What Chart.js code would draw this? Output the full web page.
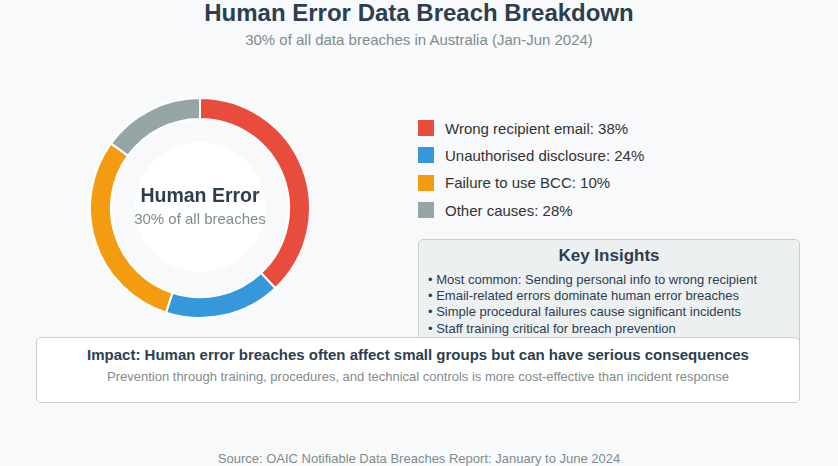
<!DOCTYPE html>
<html>
<head>
<meta charset="utf-8">
<script src="https://cdn.jsdelivr.net/npm/chart.js@4"></script>
<style>
    html, body { margin: 0; padding: 0; }
    body {
        width: 838px; height: 466px; overflow: hidden; position: relative;
        background: #f8f9fa; font-family: "Liberation Sans", Arial, sans-serif;
    }
    .abs { position: absolute; line-height: 1; white-space: nowrap; }
    .center { left: 0; width: 838px; text-align: center; }
    #title { top: 1.4px; font-size: 24px; font-weight: bold; color: #2c3e50; }
    #subtitle { top: 31.6px; font-size: 15px; color: #7f8c8d; }
    #chart-wrap { position: absolute; left: 89px; top: 97px; width: 222px; height: 222px; }
    #hole {
        position: absolute; left: 135px; top: 142px; width: 130px; height: 130px;
        border-radius: 50%; background: #fff;
    }
    #hole-title { left: 100px; width: 200px; text-align: center; top: 185.6px; font-size: 19.5px; font-weight: bold; color: #2c3e50; }
    #hole-sub { left: 100px; width: 200px; text-align: center; top: 210.6px; font-size: 15px; color: #7f8c8d; }
    .legend-box { position: absolute; left: 418px; width: 16px; height: 16px; }
    .legend-text { left: 445px; font-size: 15px; color: #333; }
    #insights {
        position: absolute; left: 418px; top: 239px; width: 382px; height: 110px;
        background: #ecf0f1; border: 1px solid #c8cdd0; border-radius: 5px; box-sizing: border-box;
    }
    #insights-title { left: 418px; width: 382px; text-align: center; top: 247.3px; font-size: 17px; font-weight: bold; color: #2c3e50; }
    .bullet { left: 428px; font-size: 13px; color: #2c3e50; }
    #impact {
        position: absolute; left: 36px; top: 337px; width: 764px; height: 66px;
        background: #fff; border: 1px solid #c8cdd0; border-radius: 5px; box-sizing: border-box;
    }
    #impact-title { top: 347.3px; left: 36px; width: 764px; text-align: center; font-size: 15px; font-weight: bold; color: #2c3e50; }
    #impact-sub { top: 370.2px; left: 36px; width: 764px; text-align: center; font-size: 13px; color: #7f8c8d; }
    #source { top: 452px; font-size: 13px; color: #7f8c8d; }
</style>
</head>
<body>
<div id="title" class="abs center"></div>
<div id="subtitle" class="abs center"></div>

<div id="hole"></div>
<div id="chart-wrap"><canvas id="chart"></canvas></div>
<div id="hole-title" class="abs"></div>
<div id="hole-sub" class="abs"></div>

<div id="legend"></div>

<div id="insights"></div>
<div id="insights-title" class="abs"></div>
<div id="bullets"></div>

<div id="impact"></div>
<div id="impact-title" class="abs"></div>
<div id="impact-sub" class="abs"></div>

<div id="source" class="abs center"></div>

<script>
    // ── Données ───────────────────────────────────────────────────────────────
    var categories   = ['Wrong recipient email', 'Unauthorised disclosure', 'Failure to use BCC', 'Other causes'];
    var legendLabels = ['Wrong recipient email: 38%', 'Unauthorised disclosure: 24%', 'Failure to use BCC: 10%', 'Other causes: 28%'];
    var sliceValues  = [38, 17, 30, 15];
    var sliceColors  = ['#e74c3c', '#3498db', '#f39c12', '#95a5a6'];
    var insights     = [
        'Most common: Sending personal info to wrong recipient',
        'Email-related errors dominate human error breaches',
        'Simple procedural failures cause significant incidents',
        'Staff training critical for breach prevention'
    ];

    // ── Textes ────────────────────────────────────────────────────────────────
    document.getElementById('title').textContent = 'Human Error Data Breach Breakdown';
    document.getElementById('subtitle').textContent = '30% of all data breaches in Australia (Jan-Jun 2024)';
    document.getElementById('hole-title').textContent = 'Human Error';
    document.getElementById('hole-sub').textContent = '30% of all breaches';
    document.getElementById('insights-title').textContent = 'Key Insights';
    document.getElementById('impact-title').textContent =
        'Impact: Human error breaches often affect small groups but can have serious consequences';
    document.getElementById('impact-sub').textContent =
        'Prevention through training, procedures, and technical controls is more cost-effective than incident response';
    document.getElementById('source').textContent = 'Source: OAIC Notifiable Data Breaches Report: January to June 2024';

    // ── Légende ───────────────────────────────────────────────────────────────
    var legend = document.getElementById('legend');
    var html = '';
    for (var i = 0; i < legendLabels.length; i++) {
        var y = 120 + i * 27.3;
        html += '<div class="legend-box" style="top:' + y + 'px;background:' + sliceColors[i] + '"></div>'
            + '<div class="abs legend-text" style="top:' + (y + 0.6) + 'px">' + legendLabels[i] + '</div>';
    }
    legend.innerHTML = html;

    // ── Points clés ───────────────────────────────────────────────────────────
    html = '';
    for (var i = 0; i < insights.length; i++) {
        html += '<div class="abs bullet" style="top:' + (272.5 + i * 16.4) + 'px">\u2022 ' + insights[i] + '</div>';
    }
    document.getElementById('bullets').innerHTML = html;

    // ── Graphique ─────────────────────────────────────────────────────────────
    new Chart(document.getElementById('chart'), {
        type: 'doughnut',
        data: {
            labels: categories,
            datasets: [{
                data: sliceValues,
                backgroundColor: sliceColors,
                borderColor: '#ffffff',
                borderWidth: 2
            }]
        },
        options: {
            responsive: true,
            maintainAspectRatio: false,
            animation: false,
            cutout: '81%',
            layout: { padding: 0 },
            plugins: {
                legend: { display: false },
                tooltip: { enabled: false }
            }
        }
    });
</script>
</body>
</html>
